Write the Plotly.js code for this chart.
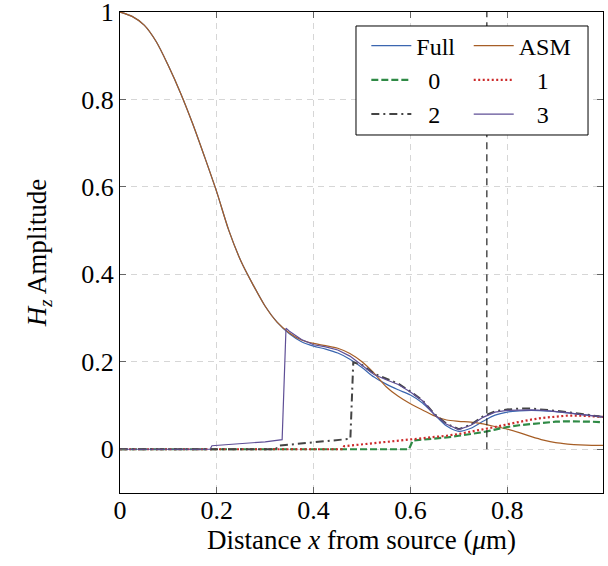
<!DOCTYPE html>
<html><head><meta charset="utf-8">
<script src="https://cdn.plot.ly/plotly-3.0.1.min.js"></script>
<style>html,body{margin:0;padding:0;background:#fff}#chart{width:608px;height:566px}</style>
</head><body><div id="chart"></div>
<script>
// ---- data ----
const xMain = [0,0.025,0.05,0.075,0.1,0.125,0.15,0.175,0.2,0.225,0.25,0.275,0.3,0.325,0.35,0.375,0.4,0.425,0.45,0.475,0.5,0.525,0.55,0.575,0.6,0.625,0.65,0.675,0.7,0.725,0.75,0.775,0.8,0.825,0.85,0.875,0.9,0.925,0.95,0.975,0.998];
const asmY = [1.0,0.99,0.97,0.932,0.877,0.815,0.745,0.668,0.588,0.5,0.43,0.376,0.327,0.29,0.266,0.25,0.242,0.237,0.231,0.219,0.2,0.174,0.143,0.121,0.104,0.09,0.076,0.067,0.064,0.062,0.058,0.052,0.046,0.038,0.029,0.021,0.015,0.012,0.01,0.009,0.009];
const fullY = [1.0,0.99,0.97,0.932,0.877,0.815,0.745,0.668,0.588,0.5,0.43,0.376,0.327,0.29,0.264,0.246,0.236,0.229,0.22,0.206,0.187,0.165,0.149,0.136,0.124,0.106,0.079,0.053,0.041,0.048,0.064,0.078,0.085,0.088,0.089,0.088,0.086,0.083,0.08,0.077,0.074];

const x0 = [0,0.597,0.605,0.625,0.65,0.675,0.7,0.725,0.75,0.775,0.8,0.825,0.85,0.875,0.9,0.925,0.95,0.975,0.998];
const y0 = [0,0,0.02,0.022,0.024,0.027,0.031,0.035,0.039,0.045,0.051,0.055,0.058,0.061,0.063,0.064,0.064,0.063,0.062];

const x1 = [0,0.46,0.463,0.5,0.525,0.55,0.575,0.6,0.625,0.65,0.675,0.7,0.725,0.75,0.775,0.8,0.825,0.85,0.875,0.9,0.925,0.95,0.975,0.998];
const y1 = [0,0,0.007,0.011,0.014,0.017,0.019,0.022,0.025,0.027,0.031,0.035,0.04,0.045,0.051,0.057,0.063,0.068,0.072,0.075,0.077,0.077,0.076,0.074];

const x2 = [0,0.322,0.326,0.4,0.476,0.482,0.5,0.525,0.55,0.575,0.6,0.625,0.65,0.675,0.7,0.725,0.75,0.775,0.8,0.825,0.85,0.875,0.9,0.925,0.95,0.975,0.998];
const y2 = [0,0,0.008,0.016,0.024,0.199,0.193,0.173,0.161,0.15,0.132,0.112,0.08,0.058,0.046,0.056,0.075,0.087,0.091,0.093,0.093,0.091,0.088,0.085,0.081,0.077,0.074];

const x3 = [0,0.186,0.19,0.25,0.3,0.335,0.343,0.35,0.375,0.4,0.425,0.45,0.475,0.5,0.525,0.55,0.575,0.6,0.625,0.65,0.675,0.7,0.725,0.75,0.775,0.8,0.825,0.85,0.875,0.9,0.925,0.95,0.975,0.998];
const y3 = [0,0,0.008,0.012,0.017,0.022,0.277,0.27,0.251,0.239,0.234,0.227,0.213,0.192,0.171,0.159,0.148,0.131,0.111,0.079,0.057,0.045,0.055,0.073,0.085,0.089,0.09,0.09,0.089,0.087,0.084,0.08,0.077,0.074];

const xMarker = [0.758,0.758];
const yMarker = [0,1];

const seriesNames = ['Full','ASM','0','1','2','3'];
const xTickVals = [0,0.2,0.4,0.6,0.8];
const xTickText = ['0','0.2','0.4','0.6','0.8'];
const yTickVals = [0,0.2,0.4,0.6,0.8,1];
const yTickText = ['0','0.2','0.4','0.6','0.8','1'];

// ---- styling ----
const FONT = '"Liberation Serif", "Times New Roman", serif';
const pad2 = '\u00a0\u00a0', pad3 = '\u00a0\u00a0\u00a0';
const traces = [
  {x:xMain, y:fullY, name:seriesNames[0], legend:'legend', mode:'lines',
   line:{color:'#3b66b0', width:1.2, shape:'spline', smoothing:0.8}},
  {x:xMain, y:asmY, name:seriesNames[1], legend:'legend2', mode:'lines',
   line:{color:'#a65e26', width:1.2, shape:'spline', smoothing:0.8}},
  {x:x0, y:y0, name:pad2 + seriesNames[2], legend:'legend', mode:'lines',
   line:{color:'#2f8a45', width:2.2, dash:'7px,3px'}},
  {x:x1, y:y1, name:pad3 + seriesNames[3], legend:'legend2', mode:'lines',
   line:{color:'#cc2a2a', width:2.2, dash:'2px,2.5px'}},
  {x:x2, y:y2, name:pad2 + seriesNames[4], legend:'legend', mode:'lines',
   line:{color:'#444444', width:2, dash:'8px,4px,2px,4px'}},
  {x:x3, y:y3, name:pad3 + seriesNames[5], legend:'legend2', mode:'lines',
   line:{color:'#5f4f96', width:1.2}},
  {x:xMarker, y:yMarker, mode:'lines', showlegend:false, hoverinfo:'skip',
   line:{color:'#222', width:1.2, dash:'7px,5px'}}
];

const axisCommon = {
  ticks:'inside', ticklen:6, tickwidth:1, tickcolor:'#666',
  showline:true, linecolor:'#000', linewidth:1, mirror:'allticks',
  showgrid:true, gridcolor:'#d6d6d6', gridwidth:1, griddash:'6px,5px',
  zeroline:false, ticklabeloverflow:'allow',
  tickfont:{family:FONT, size:26, color:'#000'}
};

const layout = {
  width:608, height:566,
  margin:{l:120, r:5, t:12, b:73},
  paper_bgcolor:'#fff', plot_bgcolor:'#fff',
  font:{family:FONT, size:26, color:'#000'},
  showlegend:true,
  xaxis:Object.assign({}, axisCommon, {
    range:[0,0.998], tickmode:'array', tickvals:xTickVals, ticktext:xTickText,
    ticklabelposition:'outside', ticklabelstandoff:-6,
    title:{text:'Distance <i>x</i> from source (<i>μ</i>m)', font:{family:FONT, size:27}, standoff:0}
  }),
  yaxis:Object.assign({}, axisCommon, {
    range:[-0.1,1], tickmode:'array', tickvals:yTickVals, ticktext:yTickText,
    title:{text:'<i>H</i><sub><i>z</i></sub> Amplitude', font:{family:FONT, size:27}, standoff:26}
  }),
  legend:{x:0.51, y:0.976, xanchor:'left', yanchor:'top', bgcolor:'rgba(0,0,0,0)',
          borderwidth:0, font:{family:FONT, size:24, color:'#000'}, tracegroupgap:0, itemwidth:40},
  legend2:{x:0.722, y:0.976, xanchor:'left', yanchor:'top', bgcolor:'rgba(0,0,0,0)',
          borderwidth:0, font:{family:FONT, size:24, color:'#000'}, tracegroupgap:0, itemwidth:40},
  shapes:[{type:'rect', xref:'paper', yref:'paper', x0:0.4886, x1:0.969, y0:0.7443, y1:0.9709,
           fillcolor:'#fff', line:{color:'#000', width:1}, layer:'above'}]
};

Plotly.newPlot('chart', traces, layout, {staticPlot:true, displayModeBar:false});
</script>
</body></html>
